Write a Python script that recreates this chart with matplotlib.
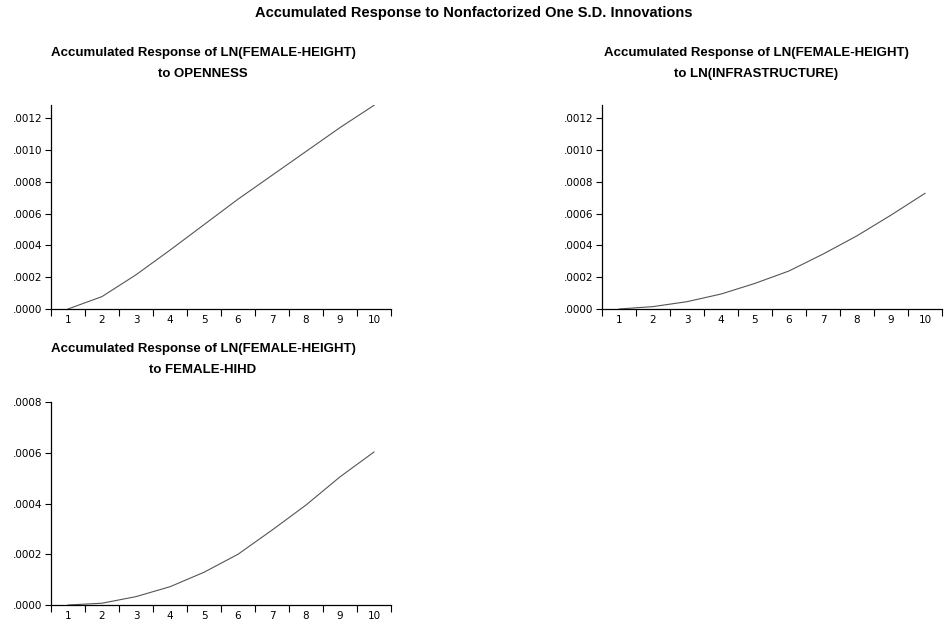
import matplotlib
matplotlib.use("Agg")
import matplotlib.pyplot as plt
from matplotlib.ticker import FuncFormatter

plt.rcParams['font.family'] = ['Liberation Sans', 'DejaVu Sans']

# periods 1..10
periods = [1, 2, 3, 4, 5, 6, 7, 8, 9, 10]

# accumulated responses
resp_openness = [0.0, 0.000078, 0.000215, 0.00037, 0.00053, 0.00069, 0.00084, 0.00099, 0.00114, 0.00128]
resp_infra = [0.0, 0.000015, 0.000046, 0.000094, 0.000161, 0.000239, 0.000345, 0.00046, 0.00059, 0.000727]
resp_hihd = [0.0, 0.000007, 0.000033, 0.000072, 0.000129, 0.0002, 0.000295, 0.000394, 0.000505, 0.000603]

title_top = "Accumulated Response of LN(FEMALE-HEIGHT)"
title_bottoms = ["to OPENNESS", "to LN(INFRASTRUCTURE)", "to FEMALE-HIHD"]

W, H = 948, 629
fig = plt.figure(figsize=(W / 100, H / 100), dpi=100)


def ax_at(left, top, right, bottom):
    # pixel box -> figure fraction
    return fig.add_axes([left / W, 1 - bottom / H, (right - left) / W, (bottom - top) / H])


def fmt(v, pos):
    s = "%.4f" % v
    return s[1:] if s.startswith("0") else s


tick_font = {'family': 'DejaVu Sans', 'size': 7.5}


def draw_panel(ax, values, sub, ymax, yticks, title_x, title_y):
    ax.plot(periods, values, color='#555555', linewidth=0.8)
    ax.set_xlim(0.5, 10.5)
    ax.set_ylim(0, ymax)
    # ticks between the periods, labels in the middle
    ax.set_xticks([p - 0.5 for p in periods] + [10.5])
    ax.set_xticklabels([])
    ax.set_xticks(periods, minor=True)
    ax.set_xticklabels([str(p) for p in periods], minor=True, fontdict=tick_font)
    ax.tick_params(axis='x', which='major', direction='out', length=5, width=0.8)
    ax.tick_params(axis='x', which='minor', length=0, pad=4)
    ax.set_yticks(yticks)
    ax.yaxis.set_major_formatter(FuncFormatter(fmt))
    for lab in ax.get_yticklabels():
        lab.set_fontfamily('DejaVu Sans')
        lab.set_fontsize(7.5)
    ax.tick_params(axis='y', direction='out', length=4, width=0.8, pad=2)
    for side in ['top', 'right']:
        ax.spines[side].set_visible(False)
    for side in ['left', 'bottom']:
        ax.spines[side].set_linewidth(0.9)
    # panel title centred over the whole frame, tick labels included
    fig.text(title_x / W, 1 - title_y / H, title_top, ha='center', va='center', fontsize=9.5, fontweight='bold')
    fig.text(title_x / W, 1 - (title_y + 21) / H, sub, ha='center', va='center', fontsize=9.5, fontweight='bold')


ax1 = ax_at(51, 105, 391, 309)
draw_panel(ax1, resp_openness, title_bottoms[0], 0.001282, [0, 0.0002, 0.0004, 0.0006, 0.0008, 0.0010, 0.0012],
           203, 53)

ax2 = ax_at(602, 105, 942, 309)
draw_panel(ax2, resp_infra, title_bottoms[1], 0.001282, [0, 0.0002, 0.0004, 0.0006, 0.0008, 0.0010, 0.0012],
           756, 53)

ax3 = ax_at(51, 402, 391, 605)
draw_panel(ax3, resp_hihd, title_bottoms[2], 0.0008, [0, 0.0002, 0.0004, 0.0006, 0.0008], 203, 349)

fig.text(0.5, 1 - 13 / H, "Accumulated Response to Nonfactorized One S.D. Innovations", ha='center', va='center',
         fontsize=10.5, fontweight='bold')

fig.savefig("out.png", dpi=100)
